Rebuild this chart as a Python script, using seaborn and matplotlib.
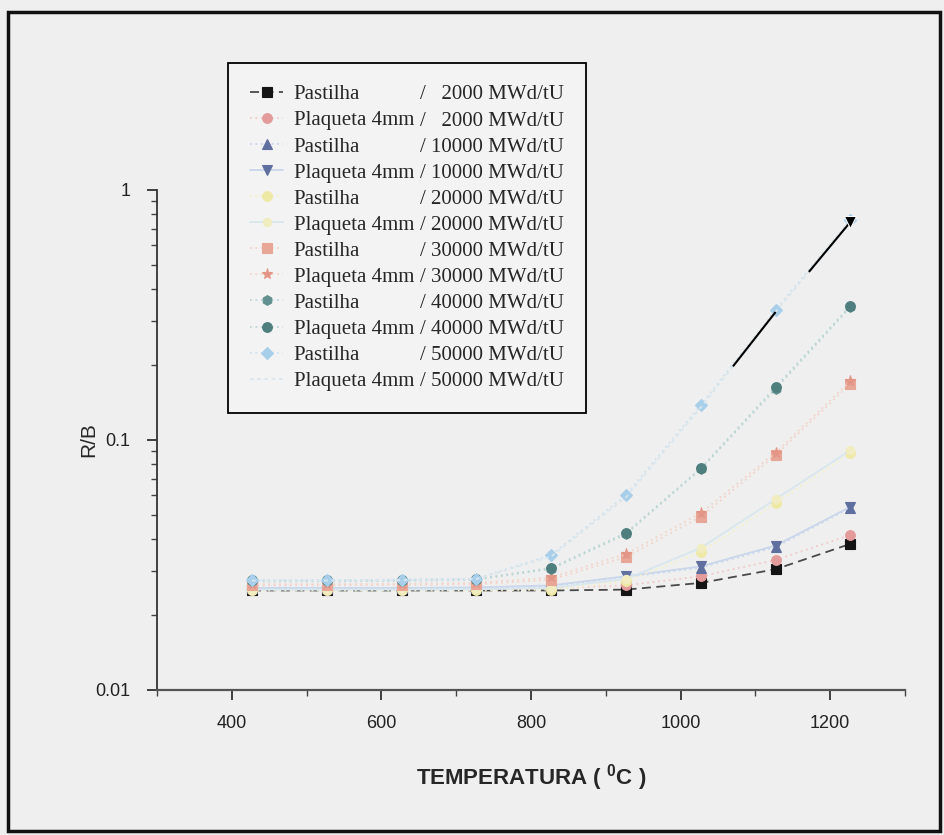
import matplotlib
matplotlib.use("Agg")
import matplotlib.pyplot as plt
from matplotlib import font_manager
from matplotlib.lines import Line2D
from matplotlib.patches import Rectangle
from matplotlib.ticker import MultipleLocator, FuncFormatter, LogLocator, NullFormatter
import seaborn as sns
import numpy as np

# Temperatures (°C) and release ratio R/B for each burnup
temperatura = [427, 527, 627, 727, 827, 927, 1027, 1127, 1227]

pastilha_2000 = [0.025, 0.025, 0.025, 0.025, 0.025, 0.0252, 0.0268, 0.0304, 0.0384]
plaqueta_2000 = [0.0252, 0.0252, 0.0252, 0.0253, 0.0255, 0.0262, 0.0285, 0.0331, 0.0417]
pastilha_10000 = [0.0255, 0.0255, 0.0255, 0.0256, 0.026, 0.0283, 0.0308, 0.0373, 0.0535]
plaqueta_10000 = [0.0256, 0.0256, 0.0256, 0.0257, 0.0262, 0.0285, 0.0312, 0.0378, 0.054]
pastilha_20000 = [0.025, 0.025, 0.025, 0.025, 0.0252, 0.0272, 0.0356, 0.056, 0.0887]
plaqueta_20000 = [0.0252, 0.0252, 0.0252, 0.0253, 0.0256, 0.0278, 0.037, 0.058, 0.091]
pastilha_30000 = [0.0262, 0.0262, 0.0263, 0.0265, 0.0276, 0.034, 0.0492, 0.087, 0.168]
plaqueta_30000 = [0.0265, 0.0265, 0.0266, 0.0268, 0.0282, 0.035, 0.051, 0.089, 0.172]
pastilha_40000 = [0.0272, 0.0272, 0.0273, 0.0276, 0.0305, 0.042, 0.0765, 0.16, 0.34]
plaqueta_40000 = [0.0275, 0.0275, 0.0276, 0.0278, 0.0308, 0.0425, 0.077, 0.163, 0.344]
pastilha_50000 = [0.0275, 0.0275, 0.0276, 0.0279, 0.0347, 0.0603, 0.138, 0.331, 0.76]
plaqueta_50000 = [0.0274, 0.0274, 0.0275, 0.0278, 0.0342, 0.059, 0.135, 0.325, 0.745]

amostras = ["Pastilha", "Plaqueta 4mm"] * 6
queimas = ["2000", "2000", "10000", "10000", "20000", "20000",
           "30000", "30000", "40000", "40000", "50000", "50000"]
series = [pastilha_2000, plaqueta_2000, pastilha_10000, plaqueta_10000,
          pastilha_20000, plaqueta_20000, pastilha_30000, plaqueta_30000,
          pastilha_40000, plaqueta_40000, pastilha_50000, plaqueta_50000]

# (marker, marker colour, line colour, line style, marker size)
estilos = [
    ("s", "#141414", "#4a4a4a", (0, (5, 3)), 6.5),
    ("o", "#e39b9b", "#f1c9c9", (0, (1, 2)), 7),
    ("^", "#5f6f9f", "#c9d6ec", (0, (1, 2)), 7),
    ("v", "#5f6f9f", "#c9d6ec", "-", 7),
    ("o", "#efe9a6", "#f5f1c6", (0, (1, 2)), 7),
    ("o", "#f1edc0", "#d8e7ee", "-", 6),
    ("s", "#e8a697", "#f3d4ca", (0, (1, 2)), 7),
    ("*", "#e39586", "#f3d4ca", (0, (1, 2)), 8),
    ("h", "#628f8f", "#bcd6d6", (0, (1, 2)), 7),
    ("o", "#4f7e7e", "#bcd6d6", (0, (1, 2)), 7),
    ("D", "#a8cfea", "#cfe2ee", (0, (1, 2)), 6),
    ("", "#d9e6ee", "#d9e6ee", (0, (2, 2)), 6),
]

BG = "#efefef"

sns.set_style("ticks")
plt.rcParams["font.family"] = ["Liberation Sans", "DejaVu Sans"]
plt.rcParams["mathtext.fontset"] = "custom"
plt.rcParams["mathtext.rm"] = "Liberation Sans"
plt.rcParams["mathtext.bf"] = "Liberation Sans:bold"

try:
    font_manager.findfont("Liberation Sans Narrow", fallback_to_default=False)
    label_family = ["Liberation Sans Narrow", "Liberation Sans"]
except Exception:
    label_family = ["Liberation Sans"]

fig = plt.figure(figsize=(9.44, 8.35), dpi=100, facecolor=BG)
ax = fig.add_axes([0.1663, 0.1737, 0.7924, 0.5988], facecolor=BG)

handles = []
for vals, (mk, mc, lc, ls, ms) in zip(series, estilos):
    sns.lineplot(x=temperatura, y=vals, ax=ax, color=lc, linestyle=ls,
                 linewidth=1.3, marker=mk if mk else None, markersize=ms,
                 markerfacecolor=mc, markeredgecolor=mc, markeredgewidth=0.8,
                 legend=False)
    handles.append(ax.lines[-1])

# dark broken trace ending in an arrow head on the upper part of the last curve
sns.lineplot(x=temperatura[6:8], y=plaqueta_50000[6:8], ax=ax, color="black",
             linestyle=(70, (35, 60)), linewidth=1.5, legend=False)
sns.lineplot(x=temperatura[7:9], y=plaqueta_50000[7:9], ax=ax, color="black",
             linestyle=(100, (100, 25)), linewidth=1.5, legend=False)
sns.lineplot(x=temperatura[-1:], y=plaqueta_50000[-1:], ax=ax, color="black",
             marker="v", markersize=8, linestyle="none", legend=False)

ax.set_yscale("log")
ax.set_xlim(300, 1300)
ax.set_ylim(0.01, 1)

ax.xaxis.set_major_locator(MultipleLocator(200))
ax.xaxis.set_minor_locator(MultipleLocator(100))
ax.yaxis.set_major_locator(LogLocator(base=10))
ax.yaxis.set_minor_locator(LogLocator(base=10, subs=np.arange(2, 10)))
ax.yaxis.set_minor_formatter(NullFormatter())
ax.yaxis.set_major_formatter(FuncFormatter(lambda v, p: f"{v:g}"))

for s in ("top", "right"):
    ax.spines[s].set_visible(False)
ax.spines["left"].set_color("#333333")
ax.spines["bottom"].set_color("#555555")
ax.spines["left"].set_linewidth(1.3)
ax.spines["bottom"].set_linewidth(1.6)

ax.tick_params(axis="both", which="major", direction="out", length=7,
               width=1.2, colors="#222222", labelsize=13, pad=11)
ax.tick_params(axis="both", which="minor", direction="out", length=4,
               width=1.0, colors="#444444")
ax.tick_params(axis="y", which="major", pad=12)

ax.set_xlabel("TEMPERATURA ( $^{\\mathbf{0}}$C )", fontsize=16,
              fontweight="bold", family=label_family, labelpad=22)
ax.set_ylabel("R/B", fontsize=15, labelpad=-2)

# two-column legend: sample type | burnup
rotulos1 = amostras
rotulos2 = [("/ " if len(q) == 5 else "/   ") + q + " MWd/tU" for q in queimas]
vazios = [Line2D([], [], linestyle="none") for _ in queimas]
leg = ax.legend(handles + vazios, rotulos1 + rotulos2, ncol=2,
                loc="upper left", bbox_to_anchor=(228 / 944, 1 - 63 / 835),
                bbox_transform=fig.transFigure, borderaxespad=0,
                prop=font_manager.FontProperties(family="Liberation Serif", size=15),
                handlelength=1.6, handletextpad=0.5, columnspacing=-1.8,
                labelspacing=0.31, borderpad=1.05, frameon=True, fancybox=False,
                edgecolor="black", facecolor="#f3f3f3", framealpha=1)
leg.get_frame().set_linewidth(1.3)

# outer frame of the figure
fig.patches.append(Rectangle((8 / 944, 4 / 835), 932 / 944, 819 / 835,
                             transform=fig.transFigure, fill=False,
                             edgecolor="#111111", linewidth=2.5))

fig.savefig("out.png", dpi=100, facecolor=BG)
